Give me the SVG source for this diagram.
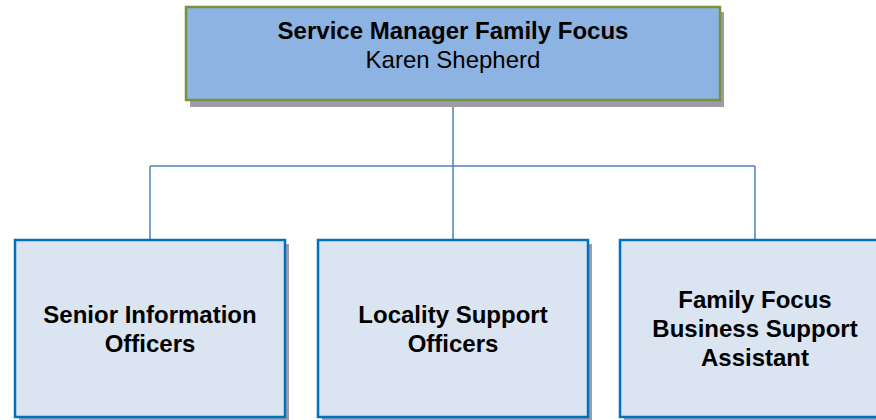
<svg xmlns="http://www.w3.org/2000/svg" width="876" height="420" viewBox="0 0 876 420">
<style>
.shadow{fill:#9f9ba8}
.top{fill:#8db3e2;stroke:#77933c;stroke-width:2.5}
.sub{fill:#dbe5f1;stroke:#0070c0;stroke-width:2.5}
.t{font-family:"Liberation Sans",Arial,sans-serif;font-size:24px;fill:#000;text-anchor:middle}
.b{font-weight:bold}
.conn{fill:none;stroke:#4f81bd;stroke-width:1.5}
</style>
<rect width="876" height="420" fill="#fff"/>
<g id="connectors">
<path class="conn" d="M453 100V166M150 166H755M150 166V240M453 166V240M755 166V240"/>
</g>
<g id="node-manager">
<rect class="shadow" x="190" y="12" width="534" height="95"/>
<rect class="top" x="186" y="7" width="534" height="93"/>
<text class="t b" x="453" y="39">Service Manager Family Focus</text>
<text class="t" x="453" y="68">Karen Shepherd</text>
</g>
<g id="node-senior">
<rect class="shadow" x="19" y="244" width="270" height="177"/>
<rect class="sub" x="15" y="240" width="270" height="177"/>
<text class="t b" x="150" y="323">Senior Information</text>
<text class="t b" x="150" y="352">Officers</text>
</g>
<g id="node-locality">
<rect class="shadow" x="322" y="244" width="270" height="177"/>
<rect class="sub" x="318" y="240" width="270" height="177"/>
<text class="t b" x="453" y="323">Locality Support</text>
<text class="t b" x="453" y="352">Officers</text>
</g>
<g id="node-business">
<rect class="shadow" x="624" y="244" width="270" height="177"/>
<rect class="sub" x="620" y="240" width="270" height="177"/>
<text class="t b" x="755" y="308">Family Focus</text>
<text class="t b" x="755" y="337">Business Support</text>
<text class="t b" x="755" y="366">Assistant</text>
</g>
</svg>
